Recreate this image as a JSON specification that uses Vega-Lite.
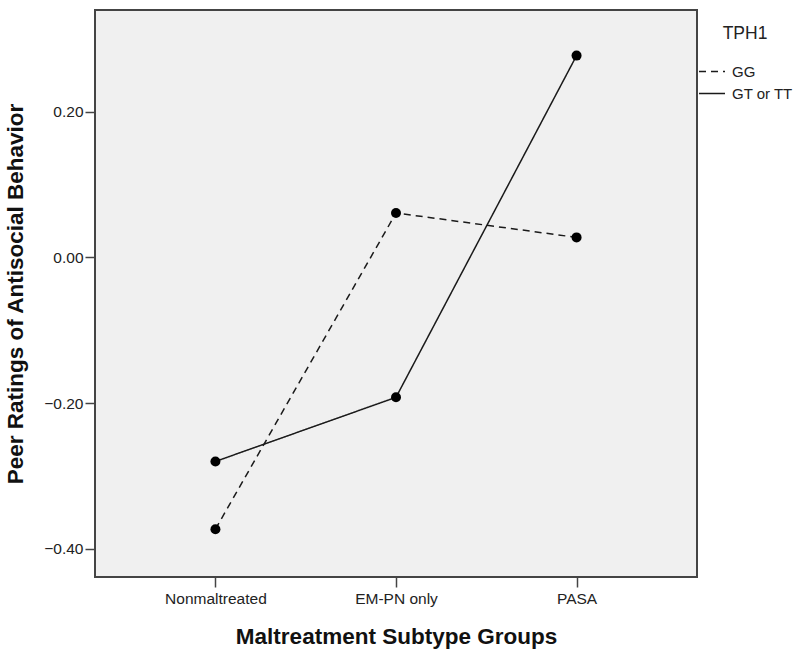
{
  "$schema": "https://vega.github.io/schema/vega-lite/v6.json",
  "width": 602,
  "height": 567,
  "autosize": {"type": "none"},
  "padding": {"left": 95, "top": 10, "right": 103, "bottom": 80},
  "background": "white",
  "config": {
    "font": "Liberation Sans",
    "view": {"fill": "#f0f0f0", "stroke": "#444444", "strokeWidth": 2}
  },
  "data": {
    "values": [
      {"group": "Nonmaltreated", "tph1": "GG", "value": -0.373},
      {"group": "EM-PN only", "tph1": "GG", "value": 0.061},
      {"group": "PASA", "tph1": "GG", "value": 0.0275},
      {"group": "Nonmaltreated", "tph1": "GT or TT", "value": -0.280},
      {"group": "EM-PN only", "tph1": "GT or TT", "value": -0.192},
      {"group": "PASA", "tph1": "GT or TT", "value": 0.277}
    ]
  },
  "encoding": {
    "x": {
      "field": "group",
      "type": "nominal",
      "sort": ["Nonmaltreated", "EM-PN only", "PASA"],
      "scale": {"type": "point", "padding": 0.667},
      "axis": {
        "title": "Maltreatment Subtype Groups",
        "titleFontSize": 22.5,
        "titleFontWeight": "bold",
        "titleColor": "#111111",
        "titlePadding": 19,
        "labelAngle": 0,
        "labelFontSize": 15.5,
        "labelColor": "#222222",
        "labelPadding": 4,
        "tickSize": 10,
        "tickColor": "#444444",
        "tickWidth": 1.5,
        "domain": false,
        "grid": false
      }
    },
    "y": {
      "field": "value",
      "type": "quantitative",
      "scale": {"domain": [-0.4386, 0.3396], "nice": false, "zero": false},
      "axis": {
        "title": "Peer Ratings of Antisocial Behavior",
        "titleFontSize": 22.5,
        "titleFontWeight": "bold",
        "titleColor": "#111111",
        "titlePadding": 16,
        "values": [-0.4, -0.2, 0, 0.2],
        "format": ".2f",
        "labelFontSize": 15.5,
        "labelColor": "#222222",
        "labelPadding": 2,
        "tickSize": 10,
        "tickColor": "#444444",
        "tickWidth": 1.5,
        "domain": false,
        "grid": false
      }
    }
  },
  "layer": [
    {
      "mark": {"type": "line", "color": "#1a1a1a", "strokeWidth": 1.5},
      "encoding": {
        "strokeDash": {
          "field": "tph1",
          "type": "nominal",
          "scale": {"domain": ["GG", "GT or TT"], "range": [[7, 5], [1, 0]]},
          "legend": {
            "title": "TPH1",
            "orient": "none",
            "legendX": 603,
            "legendY": 15,
            "titleFontSize": 17.5,
            "titleFontWeight": "normal",
            "titleColor": "#222222",
            "titleAnchor": "middle",
            "titlePadding": 15,
            "labelFontSize": 15,
            "labelColor": "#222222",
            "labelOffset": 6,
            "symbolType": "stroke",
            "symbolSize": 676,
            "symbolStrokeWidth": 1.5,
            "symbolStrokeColor": "#1a1a1a",
            "rowPadding": -3
          }
        }
      }
    },
    {
      "mark": {"type": "circle", "size": 100, "color": "black", "opacity": 1},
      "encoding": {"detail": {"field": "tph1"}}
    }
  ]
}
